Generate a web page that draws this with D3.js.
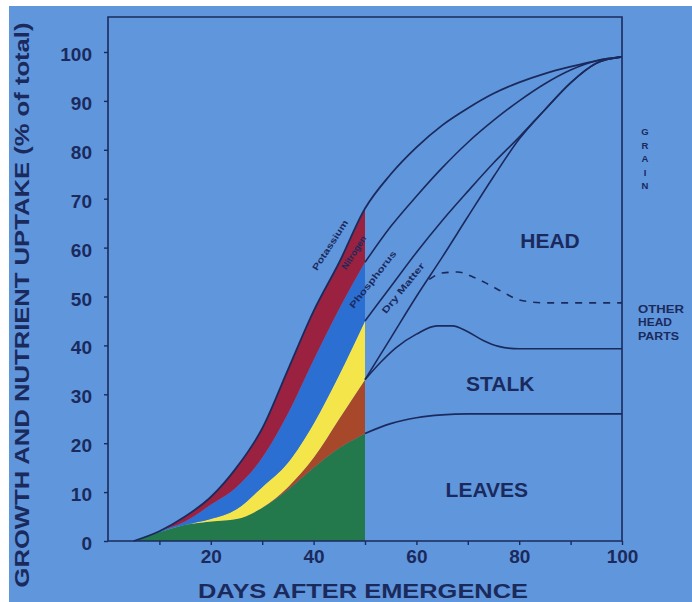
<!DOCTYPE html>
<html>
<head>
<meta charset="utf-8">
<script src="https://cdn.jsdelivr.net/npm/d3@7"></script>
<style>
  html, body { margin: 0; padding: 0; background: #ffffff; }
  svg { display: block; }
  text { font-family: "Liberation Sans", Arial, Helvetica, sans-serif; }
</style>
</head>
<body>
<svg id="chart" width="692" height="602"></svg>
<script>
// ---------- data ----------
const days      = [5, 10, 15, 20, 25, 30, 35, 40, 45, 50, 55, 60, 65, 70, 75, 80, 85, 90, 95, 100];
const potassium = [0, 2, 5, 9, 15, 23, 35, 47, 57, 68, 75, 80.5, 85, 88.5, 91.5, 93.8, 95.6, 97, 98.2, 99];
const nitrogen  = [0, 2, 4, 7.4, 11, 17, 26, 37, 47.5, 57, 64.3, 70.5, 76.3, 81.5, 86, 90, 93.5, 96.3, 98.2, 99];
const phosphorus= [0, 1.8, 3.3, 4.5, 6.5, 11, 16, 24, 34, 45, 52, 59, 65.5, 71.5, 77.3, 82.6, 88.2, 93.7, 97.7, 99];
const dryMatter = [0, 1.8, 3.3, 4, 4.5, 6.8, 11, 17, 25, 33, 41.5, 50, 58, 66.3, 74.5, 82.2, 88.2, 93.7, 97.7, 99];
const leaves    = [0, 1.8, 3.3, 4, 4.5, 6.8, 10.5, 15, 19, 22, 24, 25.2, 25.8, 26, 26, 26, 26, 26, 26, 26];

const stalkDays = [50, 53, 56, 60, 64, 67, 70, 73, 76, 80, 85, 90, 100];
const stalk     = [33, 36.5, 39.5, 42.3, 44, 44, 42.8, 41, 39.8, 39.3, 39.3, 39.3, 39.3];

const otherDays = [62.5, 65, 68, 71, 74, 77, 80, 85, 90, 100];
const otherHead = [53.5, 54.8, 55, 54, 52.5, 50.8, 49.3, 48.7, 48.7, 48.7];

const yTicks = [0, 10, 20, 30, 40, 50, 60, 70, 80, 90, 100];
const xTicks = [10, 20, 30, 40, 50, 60, 70, 80, 90, 100];
const xTickLabels = [20, 40, 60, 80, 100];

const fillEnd = 50;

// ---------- setup ----------
const svg = d3.select("#chart");
const navy = "#1b2a5c";
const bg = "#6096dc";

svg.append("rect").attr("x", 9).attr("y", 6).attr("width", 683).attr("height", 596).attr("fill", bg);

const x = d3.scaleLinear().domain([0, 100]).range([108, 622]);
const y = d3.scaleLinear().domain([0, 100]).range([541, 52]);
const plotTop = 17;

const rows = days.map((d, i) => ({
  d, k: potassium[i], n: nitrogen[i], p: phosphorus[i], dm: dryMatter[i], lv: leaves[i]
}));
const early = rows.filter(r => r.d <= fillEnd);
const late = rows.filter(r => r.d >= fillEnd);

const curve = d3.curveMonotoneX;
const band = (lo, hi) => d3.area().curve(curve).x(r => x(r.d)).y0(r => y(lo(r))).y1(r => y(hi(r)));

const bands = [
  { lo: r => 0,    hi: r => r.lv, color: "#23784c" },
  { lo: r => r.lv, hi: r => r.dm, color: "#a8482a" },
  { lo: r => r.dm, hi: r => r.p,  color: "#f4e64a" },
  { lo: r => r.p,  hi: r => r.n,  color: "#2c6fd2" },
  { lo: r => r.n,  hi: r => r.k,  color: "#9a2240" }
];
bands.forEach(b => {
  svg.append("path").datum(early).attr("d", band(b.lo, b.hi)(early)).attr("fill", b.color);
});

// ---------- lines ----------
const line = d3.line().curve(curve);
const drawLine = (pts, dash, w) => svg.append("path")
  .attr("d", line(pts)).attr("fill", "none").attr("stroke", navy)
  .attr("stroke-width", w || 1.6).attr("stroke-dasharray", dash || null)
  .attr("stroke-linejoin", "round");

drawLine(rows.map(r => [x(r.d), y(r.k)]), null, 1.8);
drawLine(late.map(r => [x(r.d), y(r.n)]));
drawLine(late.map(r => [x(r.d), y(r.p)]));
drawLine(late.map(r => [x(r.d), y(r.dm)]));
drawLine(late.map(r => [x(r.d), y(r.lv)]));
drawLine(stalkDays.map((d, i) => [x(d), y(stalk[i])]));
drawLine(otherDays.map((d, i) => [x(d), y(otherHead[i])]), "7,7", 1.6);

// ---------- frame and axes ----------
svg.append("path")
  .attr("d", `M${x(0)},${plotTop}H${x(100)}V${y(0)}H${x(0)}Z`)
  .attr("fill", "none").attr("stroke", navy).attr("stroke-width", 1.6);

const yAxis = svg.append("g").attr("transform", `translate(${x(0)},0)`)
  .call(d3.axisLeft(y).tickValues(yTicks).tickSize(4).tickPadding(12));
yAxis.select(".domain").remove();
yAxis.selectAll("line").attr("stroke", navy).attr("stroke-width", 1.4);
yAxis.selectAll("text").attr("fill", navy).attr("font-size", 19).attr("font-weight", "bold")
  .attr("dy", "0.45em").style("font-family", "'Liberation Sans', Arial, sans-serif");

const xAxis = svg.append("g").attr("transform", `translate(0,${y(0)})`)
  .call(d3.axisBottom(x).tickValues(xTicks).tickSize(4).tickPadding(5)
    .tickFormat(d => xTickLabels.includes(d) ? d : ""));
xAxis.select(".domain").remove();
xAxis.selectAll("line").attr("stroke", navy).attr("stroke-width", 1.4);
xAxis.selectAll("text").attr("fill", navy).attr("font-size", 19).attr("font-weight", "bold")
  .style("font-family", "'Liberation Sans', Arial, sans-serif");

// ---------- titles ----------
svg.append("text").attr("x", 363).attr("y", 598).attr("text-anchor", "middle")
  .attr("fill", navy).attr("font-size", 21).attr("font-weight", "bold")
  .attr("textLength", 330).attr("lengthAdjust", "spacingAndGlyphs")
  .text("DAYS AFTER EMERGENCE");

svg.append("text").attr("transform", "translate(29,305) rotate(-90)").attr("text-anchor", "middle")
  .attr("fill", navy).attr("font-size", 21).attr("font-weight", "bold")
  .attr("textLength", 565).attr("lengthAdjust", "spacingAndGlyphs")
  .text("GROWTH AND NUTRIENT UPTAKE (% of total)");

// region labels
const regionLabels = [
  { t: "HEAD", d: 86, v: 61.5 },
  { t: "STALK", d: 76.3, v: 32.3 },
  { t: "LEAVES", d: 73.7, v: 10.6 }
];
regionLabels.forEach(l => {
  svg.append("text").attr("x", x(l.d)).attr("y", y(l.v)).attr("dy", "0.36em")
    .attr("text-anchor", "middle").attr("fill", navy).attr("font-size", 21)
    .attr("font-weight", "bold").text(l.t);
});

// curve labels
const curveLabels = [
  { t: "Potassium", d: 43.2, v: 60.5, a: -57, len: 58 },
  { t: "Nitrogen", d: 47.8, v: 59, a: -57, len: 38 },
  { t: "Phosphorus", d: 51.5, v: 53.5, a: -52, len: 70 },
  { t: "Dry Matter", d: 57.4, v: 51.7, a: -51, len: 62 }
];
curveLabels.forEach(l => {
  svg.append("text")
    .attr("transform", `translate(${x(l.d)},${y(l.v)}) rotate(${l.a})`)
    .attr("text-anchor", "middle").attr("dy", "0.35em")
    .attr("fill", navy).attr("font-size", 9).attr("font-weight", "bold")
    .attr("textLength", l.len).attr("lengthAdjust", "spacingAndGlyphs")
    .text(l.t);
});

// GRAIN stacked letters
const grain = ["G", "R", "A", "I", "N"];
grain.forEach((c, i) => {
  svg.append("text").attr("x", 645).attr("y", 135 + i * 13.5).attr("text-anchor", "middle")
    .attr("fill", navy).attr("font-size", 9.5).attr("font-weight", "bold").text(c);
});

// OTHER HEAD PARTS
const otherLines = [{ t: "OTHER", w: 46 }, { t: "HEAD", w: 34 }, { t: "PARTS", w: 41 }];
otherLines.forEach((l, i) => {
  svg.append("text").attr("x", 638).attr("y", 313 + i * 13.3)
    .attr("fill", navy).attr("font-size", 10).attr("font-weight", "bold")
    .attr("textLength", l.w).attr("lengthAdjust", "spacingAndGlyphs").text(l.t);
});
</script>
</body>
</html>
